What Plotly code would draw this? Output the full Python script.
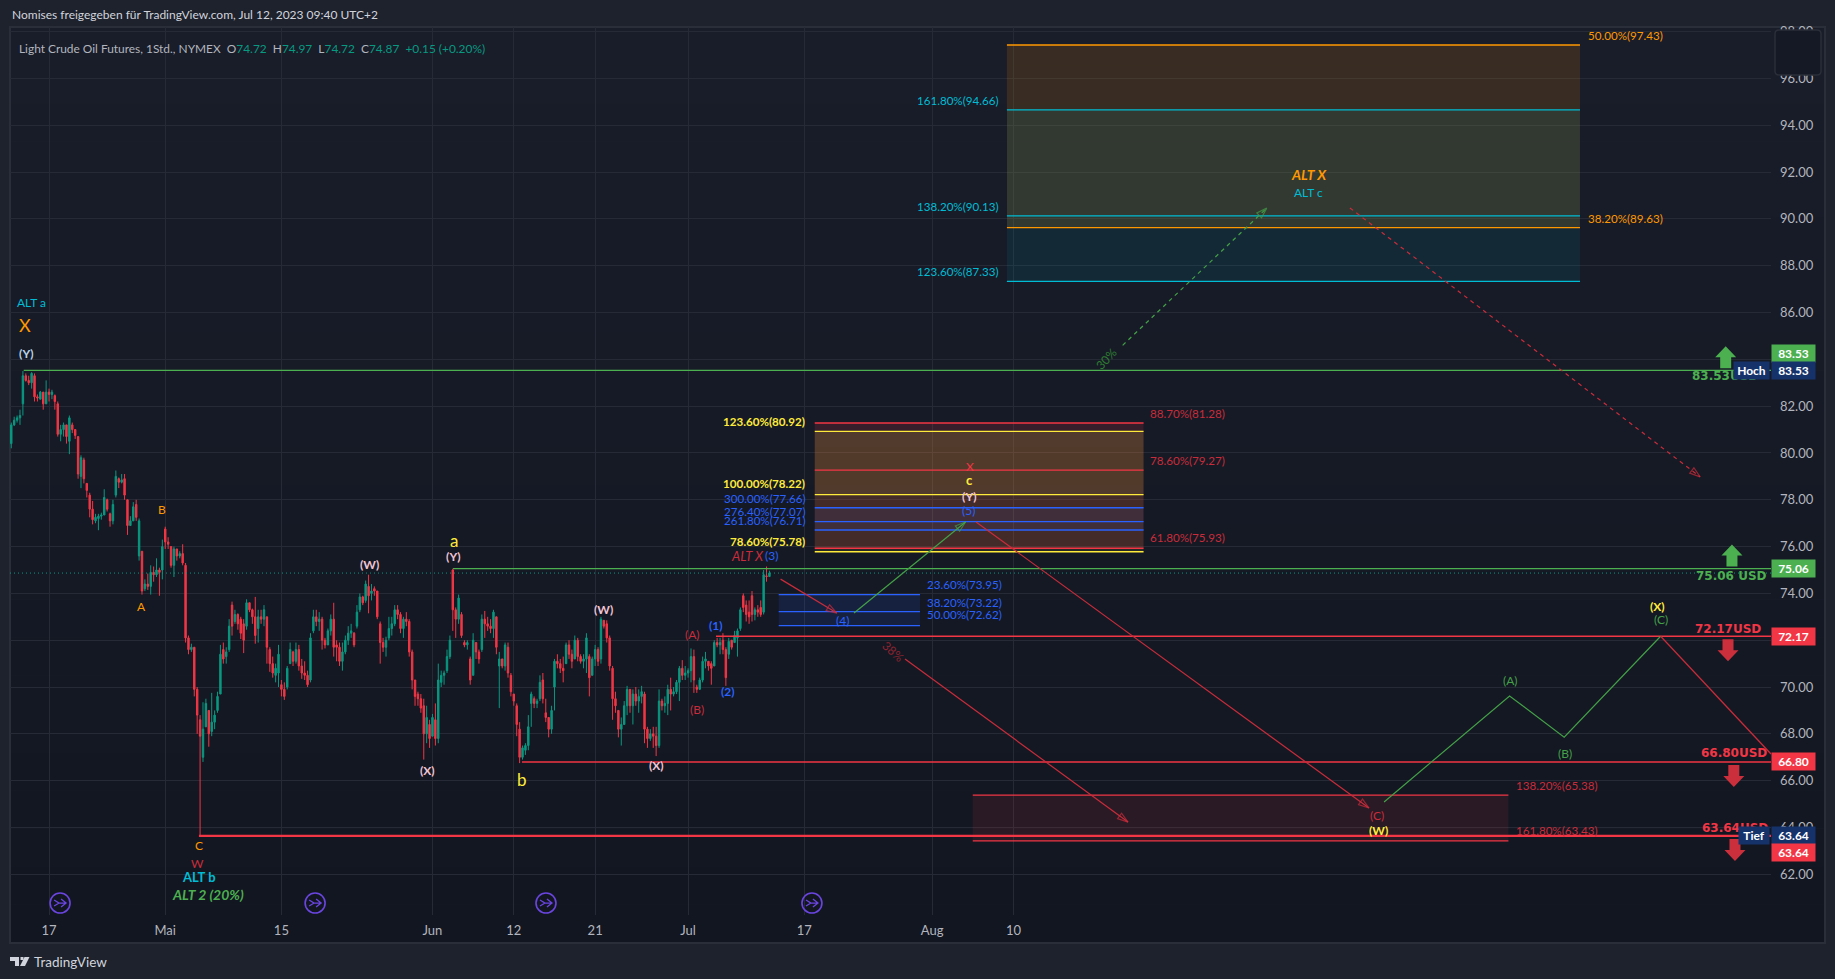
import plotly.graph_objects as go

# Time axis is counted in trading sessions from Apr 17 (weekends are skipped).
SESSION_MIN, SESSION_MAX = -3.36, 148.2
PRICE_MIN, PRICE_MAX = 60.26, 98.2

tick_sessions = [0, 10, 20, 33, 40, 47, 55, 65, 76, 83]
tick_labels = ["17", "Mai", "15", "Jun", "12", "21", "Jul", "17", "Aug", "10"]
price_ticks = [62, 64, 66, 68, 70, 72, 74, 76, 78, 80, 82, 84, 86, 88, 90, 92, 94, 96, 98]

# Price history, four candles per session.
candle_open = [
    80.4, 81.2, 81.4, 81.5, 82.1, 83.3, 83.1, 83.0, 83.3, 82.4,
    82.3, 82.6, 82.1, 82.6, 82.5, 82.45, 82.1, 80.8, 81.0, 81.2,
    80.5, 81.2, 81.0, 80.7, 79.0, 79.7, 78.7, 78.2, 77.6, 77.1,
    77.2, 77.3, 77.35, 78.0, 77.4, 77.1, 78.2, 78.9, 78.75, 78.9,
    78.0, 76.9, 77.1, 77.8, 75.6, 75.8, 74.2, 74.4, 74.3, 74.9,
    74.8, 75.0, 75.0, 76.75, 76.2, 76.0, 75.2, 75.9, 75.6, 75.7,
    75.2, 72.1, 71.6, 71.7, 69.9, 68.6, 67.0, 68.3, 69.0, 68.1,
    68.5, 69.0, 69.7, 71.6, 71.3, 71.6, 73.5, 72.8, 73.1, 72.9,
    72.7, 72.6, 73.6, 73.3, 73.0, 72.5, 73.0, 72.9, 73.0, 71.6,
    71.0, 70.5, 70.6, 70.1, 69.9, 70.0, 71.0, 71.5, 71.1, 71.6,
    70.9, 70.6, 70.5, 70.3, 72.4, 73.0, 72.8, 72.9, 72.0, 71.8,
    72.4, 72.9, 71.8, 71.7, 71.1, 71.5, 72.0, 72.3, 72.3, 72.6,
    73.3, 73.85, 73.7, 74.3, 74.0, 74.2, 74.1, 72.7, 71.9, 71.7,
    72.1, 72.5, 72.7, 73.3, 73.1, 72.5, 72.9, 72.8, 71.5, 70.3,
    69.7, 69.5, 69.2, 68.0, 68.4, 67.9, 68.6, 67.8, 70.2, 70.5,
    70.7, 71.3, 75.0, 73.3, 72.9, 73.1, 71.9, 71.8, 71.2, 70.5,
    71.9, 71.5, 71.6, 72.9, 72.7, 72.6, 72.5, 73.0, 70.9, 71.2,
    70.9, 71.7, 70.5, 69.7, 69.2, 68.2, 67.0, 67.3, 67.5,
    69.3, 69.5, 69.3, 69.5, 70.3, 68.9, 68.7, 68.2, 70.0, 71.1, 71.0,
    70.8, 71.0, 71.8, 71.4, 71.2, 72.0, 71.3, 71.1, 71.2, 71.3,
    70.5, 71.2, 71.6, 71.2, 72.85, 72.7, 72.1, 70.8, 69.5, 69.0,
    68.2, 68.4, 69.2, 69.9, 69.2, 69.7, 69.4, 69.6, 69.7, 68.2,
    67.8, 68.0, 67.9, 67.5, 69.4, 69.2, 69.3, 69.9, 69.7, 69.8,
    70.2, 70.8, 70.5, 70.6, 70.7, 71.3, 70.0, 69.9, 70.3, 71.1,
    71.1, 71.0, 70.9, 71.9, 71.8, 72.0, 71.6, 71.4, 72.0, 71.9,
    72.1, 72.5, 73.9, 73.5, 73.2, 73.9, 73.1, 73.3, 73.4,
    73.2, 74.75, 74.72,
]
candle_high = [
    81.3, 81.55, 81.6, 81.85, 83.5, 83.4, 83.3, 83.45, 83.4, 82.5,
    82.65, 82.6, 83.1, 82.75, 82.7, 82.5, 82.2, 81.2, 81.3, 81.2,
    81.6, 81.3, 81.0, 80.7, 79.9, 79.8, 78.7, 78.3, 77.95, 77.4,
    77.4, 77.45, 78.45, 78.05, 77.45, 78.0, 79.25, 78.95, 79.1, 79.1,
    78.0, 77.3, 77.9, 78.0, 77.2, 75.8, 74.6, 74.85, 75.2, 75.15,
    75.5, 75.1, 76.3, 76.85, 76.4, 76.0, 76.0, 75.9, 75.8, 76.1,
    75.3, 72.2, 71.85, 71.7, 70.0, 68.8, 69.35, 69.5, 69.0, 69.75,
    69.0, 69.8, 71.8, 71.9, 71.7, 72.9, 73.65, 73.3, 73.15, 73.0,
    72.9, 73.75, 73.6, 73.35, 73.85, 73.3, 73.3, 73.5, 73.0, 71.7,
    71.3, 71.0, 71.8, 70.3, 70.2, 70.9, 71.9, 71.55, 71.9, 71.8,
    71.2, 71.1, 70.7, 72.3, 73.3, 73.3, 73.2, 73.0, 72.1, 72.5,
    73.1, 73.6, 72.0, 71.9, 71.9, 72.2, 72.6, 72.7, 72.35, 73.5,
    74.0, 73.9, 74.55, 74.8, 74.4, 74.3, 74.1, 72.8, 72.1, 72.15,
    73.0, 73.0, 73.5, 73.5, 73.2, 73.0, 73.2, 72.9, 71.6, 70.3,
    69.8, 69.7, 69.5, 69.2, 68.6, 68.85, 69.3, 71.0, 70.7, 70.7,
    71.6, 72.2, 75.06, 73.4, 73.95, 73.2, 72.0, 72.0, 71.3, 72.3,
    71.9, 71.6, 73.1, 73.25, 73.0, 72.9, 73.3, 73.0, 71.5, 71.2,
    71.9, 71.9, 70.6, 69.7, 69.3, 68.5, 67.5, 67.6, 68.8,
    69.8, 69.6, 69.5, 70.5, 70.6, 69.5, 68.7, 69.2, 71.2, 71.4, 71.2,
    71.3, 71.9, 72.0, 71.6, 72.2, 72.1, 71.4, 71.4, 72.3, 71.4,
    71.3, 71.8, 71.7, 73.0, 72.85, 72.85, 72.2, 70.9, 69.8, 69.0,
    68.7, 69.4, 70.05, 69.9, 69.9, 70.0, 69.9, 70.05, 69.8, 68.3,
    68.2, 68.3, 68.3, 69.9, 69.5, 69.6, 70.1, 70.4, 70.0, 70.3,
    70.9, 71.15, 70.9, 70.8, 71.65, 71.6, 70.1, 70.4, 71.3, 71.5,
    71.1, 71.1, 72.0, 72.1, 72.1, 72.3, 71.7, 72.1, 72.0, 72.4,
    72.5, 73.4, 74.0, 73.7, 73.7, 74.1, 73.4, 73.5, 73.7,
    75.0, 75.15, 74.97,
]
candle_low = [
    80.2, 81.15, 81.3, 81.2, 81.6, 83.05, 82.9, 82.75, 82.2, 82.2,
    82.3, 81.85, 82.1, 82.2, 82.3, 81.85, 80.7, 80.5, 80.7, 80.4,
    79.95, 80.85, 80.6, 78.9, 78.5, 78.7, 78.1, 77.25, 76.95, 77.0,
    76.7, 77.15, 77.35, 77.5, 76.85, 76.95, 78.1, 78.5, 78.7, 78.0,
    76.5, 76.9, 77.1, 77.1, 75.4, 73.95, 74.1, 74.15, 73.95, 74.5,
    74.7, 73.9, 74.6, 75.9, 75.9, 75.1, 74.7, 75.4, 75.5, 75.2,
    71.9, 71.4, 71.5, 69.6, 68.0, 63.64, 66.8, 68.3, 67.45, 67.9,
    68.2, 68.9, 69.7, 71.0, 71.0, 71.5, 72.2, 72.7, 72.45, 72.05,
    71.45, 72.45, 73.2, 72.7, 71.85, 71.9, 72.7, 72.6, 71.0, 70.65,
    70.4, 70.2, 70.0, 69.6, 69.45, 69.9, 71.0, 70.9, 71.0, 70.7,
    70.35, 70.3, 70.0, 70.2, 72.3, 72.6, 72.4, 71.6, 71.65, 71.8,
    72.2, 71.3, 71.1, 70.9, 70.7, 71.4, 71.8, 72.1, 71.7, 72.5,
    73.2, 73.5, 73.6, 73.15, 73.7, 73.9, 72.9, 71.0, 71.5, 71.3,
    72.0, 72.2, 72.6, 72.9, 72.3, 72.1, 72.6, 71.3, 69.9, 69.2,
    69.2, 68.9, 66.9, 67.6, 67.4, 67.9, 67.5, 67.6, 70.0, 70.1,
    70.6, 71.2, 72.4, 72.1, 72.7, 72.1, 71.7, 71.6, 70.1, 70.5,
    71.2, 71.0, 71.5, 72.1, 72.4, 72.3, 72.1, 71.4, 69.1, 70.8,
    70.7, 70.4, 69.6, 69.2, 67.9, 66.75, 66.9, 67.1, 67.3,
    68.3, 69.1, 69.1, 69.4, 69.3, 68.5, 67.85, 68.0, 69.0, 70.8, 70.6,
    70.2, 71.0, 71.2, 70.8, 71.2, 71.1, 71.0, 70.8, 70.6, 69.6,
    70.5, 70.9, 70.9, 71.0, 72.5, 71.9, 70.7, 68.6, 68.9, 67.85,
    67.5, 68.4, 68.8, 68.9, 68.4, 69.2, 68.9, 69.3, 67.6, 67.4,
    67.7, 67.4, 67.05, 67.4, 69.0, 68.9, 68.8, 69.0, 69.6, 69.7,
    69.4, 70.3, 70.3, 70.4, 70.2, 69.75, 69.75, 69.9, 70.2, 70.8,
    70.7, 70.1, 70.9, 71.7, 71.4, 71.4, 70.05, 71.2, 71.6, 71.9,
    71.3, 72.4, 73.2, 72.8, 72.7, 72.8, 72.85, 73.0, 73.0,
    73.1, 74.5, 74.72,
]
candle_close = [
    81.2, 81.4, 81.5, 81.6, 83.3, 83.1, 83.0, 83.4, 82.4, 82.35,
    82.6, 82.1, 82.6, 82.5, 82.6, 82.2, 80.8, 81.0, 81.2, 80.7,
    81.5, 81.0, 80.75, 79.1, 79.8, 78.9, 78.4, 77.6, 77.15, 77.25,
    77.3, 77.35, 78.1, 77.6, 77.1, 77.8, 79.0, 78.75, 78.85, 78.2,
    76.9, 77.1, 77.7, 77.25, 77.1, 74.1, 74.4, 74.3, 74.9, 74.8,
    75.0, 74.9, 76.0, 76.2, 76.1, 75.2, 75.9, 75.6, 75.7, 75.3,
    72.1, 71.6, 71.7, 69.9, 68.8, 67.9, 68.2, 69.3, 68.0, 68.5,
    68.8, 69.6, 71.4, 71.2, 71.5, 72.6, 72.6, 73.1, 72.7, 72.3,
    72.0, 73.6, 73.3, 73.0, 72.2, 73.0, 72.9, 73.3, 71.7, 71.0,
    70.6, 70.8, 71.4, 69.9, 69.6, 70.8, 71.6, 71.1, 71.6, 70.9,
    70.6, 70.5, 70.1, 72.1, 73.0, 72.8, 72.9, 72.0, 71.8, 72.4,
    72.9, 71.7, 71.7, 71.1, 71.5, 72.0, 72.3, 72.4, 71.8, 73.2,
    73.85, 73.6, 74.4, 73.9, 74.1, 74.1, 73.0, 71.9, 71.7, 72.0,
    72.5, 72.7, 73.3, 73.1, 72.5, 72.9, 72.8, 71.5, 70.3, 69.6,
    69.5, 69.1, 68.0, 68.7, 67.8, 68.7, 67.8, 70.3, 70.5, 70.6,
    71.3, 72.0, 73.3, 72.9, 73.8, 72.2, 71.8, 71.9, 70.3, 72.0,
    71.5, 71.2, 72.9, 72.7, 72.6, 72.5, 73.2, 71.7, 71.2, 70.9,
    71.8, 70.6, 69.8, 69.4, 68.4, 67.0, 67.4, 67.5, 68.3,
    69.7, 69.3, 69.4, 70.2, 69.5, 68.7, 68.2, 69.0, 71.1, 71.0, 70.8,
    70.7, 71.8, 71.4, 71.1, 72.0, 71.3, 71.1, 71.2, 72.1, 70.4,
    71.2, 71.6, 71.1, 72.9, 72.6, 72.1, 70.9, 69.5, 69.2, 68.2,
    68.4, 69.2, 69.9, 69.2, 69.7, 69.4, 69.6, 69.8, 68.2, 67.8,
    68.0, 67.9, 67.5, 69.4, 69.2, 69.3, 69.9, 69.7, 69.8, 70.2,
    70.8, 70.5, 70.6, 70.7, 71.3, 70.3, 69.9, 70.3, 71.1, 71.2,
    70.9, 70.8, 71.9, 71.8, 71.9, 71.6, 70.4, 71.95, 71.7, 72.2,
    72.4, 73.3, 73.4, 73.1, 73.0, 73.1, 73.3, 73.2, 73.1,
    74.8, 74.72, 74.87,
]
candle_x = [-3.25 + 0.25 * i for i in range(len(candle_open))]

GREEN, RED, ORANGE, CYAN, YELLOW = "#4caf50", "#f23645", "#ff9800", "#00bcd4", "#ffeb3b"
BLUE, DIM_RED, DIM_GREEN, PINK, NAVY = "#2962ff", "#c92c3a", "#43a047", "#f0c4d4", "#16326b"
UP, DOWN = "#089981", "#f23645"
PANE_TOP_RGB, PANE_BOTTOM_RGB = (25, 29, 41), (18, 22, 33)

# Support and resistance levels: (price, first session).
support_levels = [(83.53, -2.18, GREEN, 1.4), (75.06, 34.77, GREEN, 1.4), (72.17, 57.4, RED, 1.4),
                  (66.80, 40.7, RED, 1.4), (63.64, 12.9, RED, 2.4)]
current_close = 74.87

# Fibonacci boxes: first session, last session, levels (price, colour).
fib_boxes = [
    (82.44, 131.76, [(97.43, ORANGE), (94.66, CYAN), (90.13, CYAN), (89.63, ORANGE), (87.33, CYAN)]),
    (65.9, 94.2, [(81.28, RED), (80.92, YELLOW), (79.27, RED), (78.22, YELLOW), (77.66, BLUE),
                  (77.07, BLUE), (76.71, BLUE), (75.93, RED), (75.78, YELLOW)]),
    (62.8, 74.96, [(73.95, BLUE), (73.22, BLUE), (72.62, BLUE)]),
    (79.5, 125.6, [(65.38, RED), (63.43, RED)]),
]
# Shaded bands: first session, last session, upper price, lower price, fill.
fib_fills = [
    (82.44, 131.76, 97.43, 89.63, "rgba(255,152,0,0.14)"),
    (82.44, 131.76, 94.66, 87.33, "rgba(0,188,212,0.09)"),
    (65.9, 94.2, 81.28, 75.93, "rgba(242,54,69,0.15)"),
    (65.9, 94.2, 80.92, 78.22, "rgba(255,235,59,0.14)"),
    (65.9, 94.2, 78.22, 75.78, "rgba(255,235,59,0.07)"),
    (65.9, 94.2, 77.66, 76.71, "rgba(41,98,255,0.08)"),
    (62.8, 74.96, 73.95, 72.62, "rgba(41,98,255,0.13)"),
    (79.5, 125.6, 65.38, 63.43, "rgba(242,54,69,0.10)"),
]
# Level captions: text, session, price, colour, anchor, bold.
fib_captions = [
    ("50.00%(97.43)", 132.3, 97.85, ORANGE, "left", False),
    ("38.20%(89.63)", 132.3, 90.03, ORANGE, "left", False),
    ("161.80%(94.66)", 81.85, 95.07, CYAN, "right", False),
    ("138.20%(90.13)", 81.85, 90.55, CYAN, "right", False),
    ("123.60%(87.33)", 81.85, 87.77, CYAN, "right", False),
    ("123.60%(80.92)", 65.2, 81.36, YELLOW, "right", True),
    ("100.00%(78.22)", 65.2, 78.71, YELLOW, "right", True),
    ("300.00%(77.66)", 65.2, 78.07, BLUE, "right", False),
    ("276.40%(77.07)", 65.2, 77.52, BLUE, "right", False),
    ("261.80%(76.71)", 65.2, 77.13, BLUE, "right", False),
    ("78.60%(75.78)", 65.2, 76.2, YELLOW, "right", True),
    ("88.70%(81.28)", 94.6, 81.7, DIM_RED, "left", False),
    ("78.60%(79.27)", 94.6, 79.7, DIM_RED, "left", False),
    ("61.80%(75.93)", 94.6, 76.37, DIM_RED, "left", False),
    ("23.60%(73.95)", 75.4, 74.4, BLUE, "left", False),
    ("38.20%(73.22)", 75.4, 73.63, BLUE, "left", False),
    ("50.00%(72.62)", 75.4, 73.08, BLUE, "left", False),
    ("138.20%(65.38)", 126.1, 65.81, DIM_RED, "left", False),
    ("161.80%(63.43)", 126.1, 63.89, DIM_RED, "left", False),
]
# Wave counts: text, session, price, colour, size, style.
wave_labels = [
    ("ALT a", -1.55, 86.45, CYAN, 12, ""), ("X", -2.07, 85.46, ORANGE, 18, ""),
    ("(Y)", -1.98, 84.27, "#b8d4e8", 12, "b"), ("A", 7.92, 73.42, ORANGE, 12, ""),
    ("B", 9.72, 77.6, ORANGE, 12, ""), ("C", 12.9, 63.21, ORANGE, 12, ""),
    ("W", 12.74, 62.48, DIM_RED, 12, ""), ("ALT b", 12.9, 61.88, CYAN, 13, "b"),
    ("ALT 2 (20%)", 13.68, 61.12, GREEN, 14, "bi"), ("(W)", 27.54, 75.25, PINK, 12, "b"),
    ("(X)", 32.53, 66.45, PINK, 12, "b"), ("a", 34.85, 76.25, YELLOW, 17, ""),
    ("(Y)", 34.77, 75.57, PINK, 12, "b"), ("b", 40.7, 66.07, YELLOW, 17, ""),
    ("(W)", 47.68, 73.33, PINK, 12, "b"), ("(X)", 52.32, 66.63, PINK, 12, "b"),
    ("(A)", 55.34, 72.26, DIM_RED, 12, ""), ("(B)", 55.77, 69.02, DIM_RED, 12, ""),
    ("(1)", 57.4, 72.61, BLUE, 12, "b"), ("(2)", 58.43, 69.79, BLUE, 12, "b"),
    ("ALT X", 60.15, 75.6, DIM_RED, 13, "i"), ("(3)", 62.22, 75.6, BLUE, 12, ""),
    ("(4)", 68.33, 72.86, BLUE, 12, ""), ("X", 79.26, 79.44, RED, 12, ""),
    ("c", 79.26, 78.84, YELLOW, 13, "b"), ("(Y)", 79.26, 78.12, PINK, 12, "b"),
    ("(5)", 79.17, 77.56, BLUE, 12, ""), ("ALT X", 108.43, 91.91, ORANGE, 14, "bi"),
    ("ALT c", 108.43, 91.15, CYAN, 12, ""), ("(A)", 125.8, 70.3, DIM_GREEN, 12, ""),
    ("(B)", 130.46, 67.14, DIM_GREEN, 12, ""), ("(C)", 138.7, 72.9, DIM_GREEN, 12, ""),
    ("(X)", 138.47, 73.46, YELLOW, 12, "b"), ("(C)", 114.3, 64.53, DIM_RED, 12, ""),
    ("(W)", 114.4, 63.89, YELLOW, 12, "b"),
]
# Projected paths: sessions, prices, colour, dash, arrowhead at the end.
projection_paths = [
    ([62.96, 67.8], [74.61, 73.16], DIM_RED, "solid", True),
    ([69.28, 78.88], [73.16, 77.05], DIM_GREEN, "solid", True),
    ([79.78, 113.6], [77.05, 64.83], DIM_RED, "solid", True),
    ([73.67, 92.86], [71.2, 64.23], DIM_RED, "solid", True),
    ([92.4, 104.8], [84.6, 90.46], DIM_GREEN, "dash", True),
    ([111.96, 142.1], [90.47, 78.98], DIM_RED, "dash", True),
    ([114.9, 125.7, 130.4, 138.7], [65.09, 69.62, 67.86, 72.17], DIM_GREEN, "solid", False),
    ([138.7, 148.2], [72.17, 67.14], DIM_RED, "solid", False),
]
percent_notes = [("30%", 91.0, 84.05, "#2e7d32", -47), ("38%", 72.63, 71.5, "#8e2430", 42)]
# Level call-outs: caption, session, price, colour; arrows: session, level, direction.
level_callouts = [
    ("83.53USD", 144.2, 83.29, GREEN), ("75.06 USD", 144.8, 74.74, GREEN),
    ("72.17USD", 144.5, 72.48, RED), ("66.80USD", 145.0, 67.18, RED), ("63.64USD", 145.1, 63.98, RED),
]
level_arrows = [(144.3, 83.53, 1), (144.84, 75.06, 1), (144.5, 72.17, -1), (145.0, 66.80, -1), (145.1, 63.64, -1)]
# Price-scale tags: text, price, fill.
scale_tags = [
    ("83.53", 84.27, GREEN), ("83.53", 83.53, NAVY), ("75.06", 75.06, GREEN), ("72.17", 72.17, RED),
    ("66.80", 66.80, RED), ("63.64", 63.64, NAVY), ("63.64", 62.91, RED),
]
side_tags = [("Hoch", 83.53, 35), ("Tief", 63.64, 30)]
session_break_marks = [0.95, 22.9, 42.77, 65.66]
session_break_price = 60.77

TEXT_FONT = "Lato, 'Noto Sans', sans-serif"
ICON_COLOR = "#6a45e0"

fig = go.Figure()
fig.add_trace(go.Candlestick(
    x=candle_x, open=candle_open, high=candle_high, low=candle_low, close=candle_close,
    increasing=dict(line=dict(color=UP, width=1), fillcolor=UP),
    decreasing=dict(line=dict(color=DOWN, width=1), fillcolor=DOWN),
    whiskerwidth=0, hoverinfo="skip", showlegend=False,
))

# Horizontal levels and the dotted last-price line.
for price, start, color, width in support_levels:
    fig.add_trace(go.Scatter(x=[start, SESSION_MAX], y=[price, price], mode="lines",
                             line=dict(color=color, width=width), hoverinfo="skip", showlegend=False))
fig.add_trace(go.Scatter(x=[SESSION_MIN, SESSION_MAX], y=[current_close, current_close], mode="lines",
                         line=dict(color=UP, width=1, dash="1px 3px"), hoverinfo="skip", showlegend=False))

# Fibonacci level lines.
for first, last, levels in fib_boxes:
    for price, color in levels:
        fig.add_trace(go.Scatter(x=[first, last], y=[price, price], mode="lines",
                                 line=dict(color=color, width=1.3), hoverinfo="skip", showlegend=False))

# Projected wave paths.
for xs, ys, color, dash, head in projection_paths:
    fig.add_trace(go.Scatter(
        x=xs, y=ys, mode="lines+markers" if head else "lines",
        line=dict(color=color, width=1.2, dash="4px 4px" if dash == "dash" else "solid"),
        marker=dict(symbol="arrow-open", size=[0] * (len(xs) - 1) + [11], angleref="previous",
                    color=color, line=dict(color=color, width=1.2)),
        hoverinfo="skip", showlegend=False,
    ))

# Session-break icons.
fig.add_trace(go.Scatter(
    x=session_break_marks, y=[session_break_price] * len(session_break_marks), mode="markers",
    marker=dict(symbol="circle-open", size=20, color=ICON_COLOR, line=dict(color=ICON_COLOR, width=1.6)),
    hoverinfo="skip", showlegend=False,
))

shapes = []
# Pane and scale background, a faint vertical gradient.
PANE_X_END = 1 + 54.0 / 1761
PANE_Y_END = -28.0 / 888
bands = 24
for b in range(bands):
    t = b / (bands - 1)
    rgb = tuple(round(a + (c - a) * t) for a, c in zip(PANE_TOP_RGB, PANE_BOTTOM_RGB))
    y_top = 1 + (PANE_Y_END - 1) * b / bands
    y_bot = 1 + (PANE_Y_END - 1) * (b + 1) / bands
    shapes.append(dict(type="rect", xref="paper", yref="paper", x0=0, x1=PANE_X_END, y0=y_bot, y1=y_top,
                       layer="below", line=dict(width=0), fillcolor="rgb(%d,%d,%d)" % rgb))
# Pane border.
shapes.append(dict(type="rect", xref="paper", yref="paper", x0=0, x1=PANE_X_END, y0=PANE_Y_END, y1=1,
                   layer="below", line=dict(color="#2a2e39", width=2), fillcolor="rgba(0,0,0,0)"))
for first, last, top, bottom, fill in fib_fills:
    shapes.append(dict(type="rect", xref="x", yref="y", x0=first, x1=last, y0=bottom, y1=top,
                       layer="between", line=dict(width=0), fillcolor=fill))
# Block arrows next to the levels.
for session, level, direction in level_arrows:
    if direction > 0:
        path = "M -5.5 2 L 5.5 2 L 5.5 13 L 10.5 13 L 0 24 L -10.5 13 L -5.5 13 Z"
        color = GREEN
    else:
        path = "M -5.5 -3 L 5.5 -3 L 5.5 -14 L 10.5 -14 L 0 -25 L -10.5 -14 L -5.5 -14 Z"
        color = "#cc2f3c"
    shapes.append(dict(type="path", xref="x", yref="y", xsizemode="pixel", ysizemode="pixel",
                       xanchor=session, yanchor=level, path=path, fillcolor=color, line=dict(width=0),
                       layer="above"))
# Merging-arrows glyph inside each session-break icon.
for session in session_break_marks:
    shapes.append(dict(type="path", xref="x", yref="y", xsizemode="pixel", ysizemode="pixel",
                       xanchor=session, yanchor=session_break_price,
                       path="M -6 3 L -1 0 L 6 0 M 1 4 L 6 0 L 1 -4 M -6 -3 L -1 0",
                       line=dict(color=ICON_COLOR, width=1.3), fillcolor="rgba(0,0,0,0)", layer="above"))
# Logo-scale button at the top of the price axis.
shapes.append(dict(type="path", xref="paper", yref="paper", xsizemode="pixel", ysizemode="pixel",
                   xanchor=1, yanchor=1,
                   path="M 8 -3 L 46 -3 Q 50 -3 50 -7 L 50 -44 Q 50 -48 46 -48 L 8 -48 Q 4 -48 4 -44 L 4 -7 Q 4 -3 8 -3 Z",
                   fillcolor="#151925", line=dict(color="#2a2e39", width=1.5), layer="above"))
# Footer logo.
logo_color = "#d1d4dc"
for path in ("M 0 -42 L 9 -42 L 9 -51 L 5 -51 L 5 -46 L 0 -46 Z",
             "M 10.5 -42 L 13.5 -42 L 13.5 -45 L 10.5 -45 Z",
             "M 14.5 -42 L 19.5 -42 L 15 -51 L 10 -51 Z"):
    shapes.append(dict(type="path", xref="paper", yref="paper", xsizemode="pixel", ysizemode="pixel",
                       xanchor=0, yanchor=0, path=path, fillcolor=logo_color, line=dict(width=0),
                       layer="above"))

annotations = []


def wrap_style(text, style):
    if "b" in style:
        text = "<b>%s</b>" % text
    if "i" in style:
        text = "<i>%s</i>" % text
    return text


for text, x, y, color, anchor, bold in fib_captions:
    annotations.append(dict(text=wrap_style(text, "b" if bold else ""), x=x, y=y, xref="x", yref="y",
                            xanchor=anchor, yanchor="middle", showarrow=False,
                            font=dict(family=TEXT_FONT, size=11.6, color=color)))
for text, x, y, color, size, style in wave_labels:
    annotations.append(dict(text=wrap_style(text, style), x=x, y=y, xref="x", yref="y",
                            xanchor="center", yanchor="middle", showarrow=False,
                            font=dict(family=TEXT_FONT, size=size, color=color)))
for text, x, y, color, angle in percent_notes:
    annotations.append(dict(text=text, x=x, y=y, xref="x", yref="y", textangle=angle, showarrow=False,
                            font=dict(family=TEXT_FONT, size=12, color=color)))
for text, x, y, color in level_callouts:
    annotations.append(dict(text="<b>%s</b>" % text, x=x, y=y, xref="x", yref="y", showarrow=False,
                            xanchor="center", yanchor="middle",
                            font=dict(family="DejaVu Sans, sans-serif", size=12, color=color)))
for text, y, fill in scale_tags:
    annotations.append(dict(text="<b>%s</b>" % text, x=1, y=y, xref="paper", yref="y", xanchor="left",
                            yanchor="middle", showarrow=False, width=43, height=17, bgcolor=fill,
                            align="center", valign="middle", borderpad=0,
                            font=dict(family=TEXT_FONT, size=12, color="#ffffff")))
for text, y, width in side_tags:
    annotations.append(dict(text="<b>%s</b>" % text, x=1, y=y, xref="paper", yref="y", xanchor="right",
                            yanchor="middle", showarrow=False, width=width, height=17, bgcolor=NAVY,
                            xshift=-1, align="center", valign="middle", borderpad=0,
                            font=dict(family=TEXT_FONT, size=12, color="#ffffff")))
annotations.append(dict(
    text="Nomises freigegeben für TradingView.com, Jul 12, 2023 09:40 UTC+2",
    x=0, y=900.0 / 888, xref="paper", yref="paper", xanchor="left", yanchor="middle", showarrow=False,
    font=dict(family=TEXT_FONT, size=12, color="#d1d4dc"),
))
annotations.append(dict(
    text=("<span style='color:#b2b5be'>Light Crude Oil Futures, 1Std., NYMEX  O</span>74.72"
          "<span style='color:#b2b5be'>  H</span>74.97<span style='color:#b2b5be'>  L</span>74.72"
          "<span style='color:#b2b5be'>  C</span>74.87  +0.15 (+0.20%)"),
    x=7.0 / 1761, y=867.0 / 888, xref="paper", yref="paper", xanchor="left", yanchor="middle",
    showarrow=False, font=dict(family=TEXT_FONT, size=11.9, color=UP),
))
annotations.append(dict(
    text="TradingView", x=22.0 / 1761, y=-47.0 / 888, xref="paper", yref="paper", xanchor="left",
    yanchor="middle", showarrow=False, font=dict(family=TEXT_FONT, size=13.5, color="#d1d4dc"),
))

fig.update_layout(
    width=1835, height=979, autosize=False,
    margin=dict(l=10, r=64, t=27, b=64, pad=0),
    paper_bgcolor="#1e222d", plot_bgcolor="rgba(0,0,0,0)",
    shapes=shapes, annotations=annotations, showlegend=False, hovermode=False,
    font=dict(family=TEXT_FONT, color="#b2b5be"),
    xaxis=dict(range=[SESSION_MIN, SESSION_MAX], rangeslider=dict(visible=False), tickmode="array",
               tickvals=tick_sessions, ticktext=tick_labels, showgrid=True, gridcolor="#262a36", gridwidth=1,
               zeroline=False, showline=False, ticks="", ticklabelstandoff=6,
               tickfont=dict(family=TEXT_FONT, size=13, color="#b2b5be")),
    yaxis=dict(range=[PRICE_MIN, PRICE_MAX], side="right", tickmode="array", tickvals=price_ticks,
               tickformat=".2f", showgrid=True, gridcolor="#262a36", gridwidth=1, zeroline=False, showline=False,
               ticks="", ticklabelstandoff=8, tickfont=dict(family=TEXT_FONT, size=13, color="#b2b5be")),
)

fig.write_html("out.html", config=dict(displayModeBar=False))
